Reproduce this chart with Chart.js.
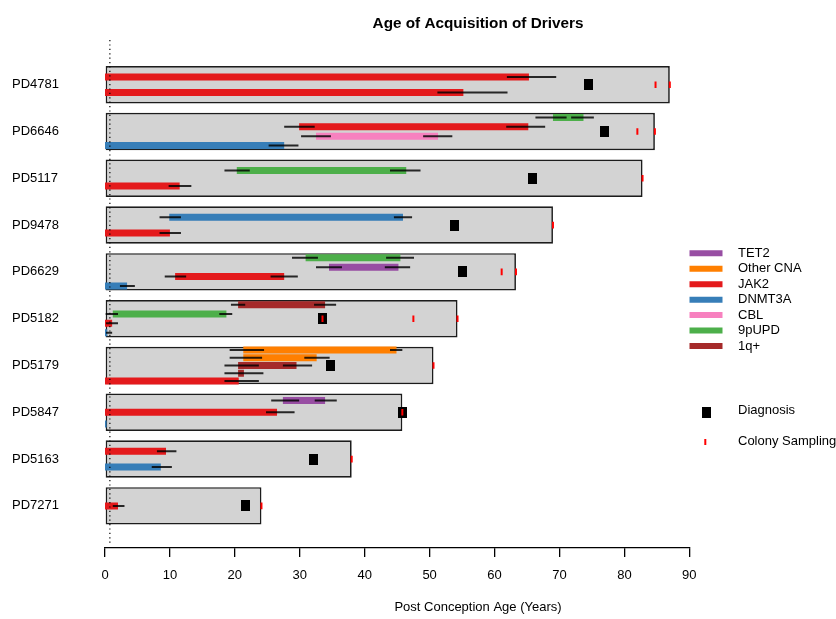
<!DOCTYPE html>
<html>
<head>
<meta charset="utf-8">
<script src="https://cdn.jsdelivr.net/npm/chart.js@4.4.1/dist/chart.umd.min.js"></script>
<style>
  html, body { margin: 0; padding: 0; background: #ffffff; }
  canvas { display: block; }
</style>
</head>
<body>
<canvas id="chart" width="836" height="619"></canvas>
<script>
// Patients, top to bottom
const patients = ['PD4781', 'PD6646', 'PD5117', 'PD9478', 'PD6629', 'PD5182', 'PD5179', 'PD5847', 'PD5163', 'PD7271'];
// Age (years post conception) at the last colony sampling: end of each grey box
const lastSampling = [87.0, 84.7, 82.8, 69.0, 63.3, 54.3, 50.6, 45.8, 38.0, 24.1];
// Age at diagnosis
const diagnosisAge = [74.4, 77.0, 65.8, 53.9, 55.0, 33.5, 34.8, 45.8, 32.1, 21.6];
// Ages at which colonies were sampled
const colonySampling = [[84.8, 87.0], [82.0, 84.7], [82.8], [69.0], [61.1, 63.3], [33.5, 47.5, 54.3], [50.6], [45.8], [38.0], [24.1]];
// Number of driver lanes inside each patient box
const laneCounts = [2, 4, 2, 2, 4, 4, 5, 3, 2, 1];

// Driver events: patient index, lane, driver, acquisition window and confidence limits
const drvPatient = [0, 0, 1, 1, 1, 1, 2, 2, 3, 3, 4, 4, 4, 4, 5, 5, 5, 5, 6, 6, 6, 6, 6, 7, 7, 7, 8, 8, 9];
const drvLane    = [1, 2, 1, 2, 3, 4, 1, 2, 1, 2, 1, 2, 3, 4, 1, 2, 3, 4, 1, 2, 3, 4, 5, 1, 2, 3, 1, 2, 1];
const drvGene    = ['JAK2', 'JAK2', '9pUPD', 'JAK2', 'CBL', 'DNMT3A', '9pUPD', 'JAK2', 'DNMT3A', 'JAK2',
                    '9pUPD', 'TET2', 'JAK2', 'DNMT3A', '1q+', '9pUPD', 'JAK2', 'DNMT3A',
                    'Other CNA', 'Other CNA', '1q+', '1q+', 'JAK2', 'TET2', 'JAK2', 'DNMT3A', 'JAK2', 'DNMT3A', 'JAK2'];
const drvStart   = [0, 0, 69.0, 29.9, 32.5, 0, 20.3, 0, 9.9, 0, 30.9, 34.5, 10.8, 0, 20.5, 1.2, 0, 0,
                    21.3, 21.3, 20.5, 20.5, 0, 27.4, 0, 0, 0, 0, 0];
const drvEnd     = [65.3, 55.2, 73.7, 65.2, 51.3, 27.6, 46.4, 11.5, 45.9, 10.0, 45.5, 45.2, 27.6, 3.4, 33.9, 18.7, 1.1, 0.35,
                    44.9, 32.6, 29.5, 21.4, 20.6, 33.9, 26.5, 0.25, 9.4, 8.6, 2.0];
const drvStartLo = [null, null, 66.3, 27.6, 30.2, null, 18.4, null, 8.4, null, 28.8, 32.5, 9.2, null, 19.4, 0.1, null, null,
                    19.2, 19.2, 18.4, 18.4, null, 25.6, null, null, null, null, null];
const drvStartHi = [null, null, 71.1, 32.3, 34.8, null, 22.3, null, 11.7, null, 32.8, 36.5, 12.5, null, 21.6, 2.0, null, null,
                    24.5, 24.2, 23.7, 23.4, null, 29.9, null, null, null, null, null];
const drvEndLo   = [61.9, 51.2, 71.8, 61.8, 49.0, 25.2, 43.9, 9.8, 44.5, 8.4, 43.3, 43.1, 25.5, 2.3, 32.2, 17.6, 0.15, 0.15,
                    43.9, 30.7, 27.4, 19.4, 18.4, 32.3, 24.8, null, 8.0, 7.2, 1.2];
const drvEndHi   = [69.5, 62.0, 75.3, 67.8, 53.5, 29.8, 48.6, 13.3, 47.3, 11.7, 47.6, 47.0, 29.7, 4.6, 35.6, 19.6, 2.0, 1.1,
                    45.8, 34.6, 31.9, 24.4, 23.7, 35.7, 29.2, null, 11.0, 10.3, 3.0];

// Legend order and colours
const legendGenes = ['TET2', 'Other CNA', 'JAK2', 'DNMT3A', 'CBL', '9pUPD', '1q+'];
const geneColors  = ['#984EA3', '#FF7F00', '#E41A1C', '#377EB8', '#F781BF', '#4DAF4A', '#A52A2A'];

// Age at birth (9 months post conception)
const birthAge = 0.75;
const xTicks = [0, 10, 20, 30, 40, 50, 60, 70, 80, 90];

const FONT = '"Liberation Sans", Arial, Helvetica, sans-serif';

function laneY(p, lane) {
  const n = laneCounts[p];
  return p + 1 - 0.5 + lane / (n + 1);
}

// Black diagnosis marker
const diagMarker = document.createElement('canvas');
diagMarker.width = 9; diagMarker.height = 11;
(function () {
  const g = diagMarker.getContext('2d');
  g.fillStyle = '#000000';
  g.fillRect(0, 0, 9, 11);
})();

const datasets = [];

// Grey box per patient, from conception to last sampling
datasets.push({
  type: 'bar', indexAxis: 'y',
  data: patients.map((_, i) => ({ x: [0, lastSampling[i]], y: i + 1 })),
  backgroundColor: '#d3d3d3', borderColor: '#1c1c1c', borderWidth: 1.7, borderSkipped: false,
  barPercentage: 0.8, categoryPercentage: 1, order: 10
});

// Driver bars, one dataset per driver type
legendGenes.forEach((g, gi) => {
  const pts = [];
  drvGene.forEach((gg, k) => {
    if (gg !== g) return;
    const y = laneY(drvPatient[k], drvLane[k]);
    pts.push({ x: drvStart[k], y: y }, { x: drvEnd[k], y: y }, { x: drvEnd[k], y: null });
  });
  datasets.push({
    type: 'line', data: pts, borderColor: geneColors[gi], borderWidth: 7, borderCapStyle: 'butt',
    pointRadius: 0, pointHitRadius: 0, spanGaps: false, fill: false, tension: 0, order: 5
  });
});

// Confidence intervals of the start and end of each bar
const ciPts = [];
drvGene.forEach((_, k) => {
  const y = laneY(drvPatient[k], drvLane[k]);
  if (drvStartLo[k] !== null) ciPts.push({ x: drvStartLo[k], y: y }, { x: drvStartHi[k], y: y }, { x: drvStartHi[k], y: null });
  if (drvEndLo[k] !== null) ciPts.push({ x: drvEndLo[k], y: y }, { x: drvEndHi[k], y: y }, { x: drvEndHi[k], y: null });
});
datasets.push({
  type: 'line', data: ciPts, borderColor: 'rgba(0,0,0,0.82)', borderWidth: 2, borderCapStyle: 'butt',
  pointRadius: 0, spanGaps: false, fill: false, tension: 0, order: 4
});

// Diagnosis
datasets.push({
  type: 'line', showLine: false,
  data: patients.map((_, i) => ({ x: diagnosisAge[i], y: i + 1 })),
  pointStyle: diagMarker, pointRadius: 5, order: 3
});

// Colony sampling
const sampPts = [];
colonySampling.forEach((ages, i) => ages.forEach(a => sampPts.push({ x: a, y: i + 1 })));
datasets.push({
  type: 'line', showLine: false, data: sampPts,
  pointStyle: 'line', rotation: 90, pointRadius: 3.3,
  pointBorderColor: '#ff0000', pointBorderWidth: 2, order: 2
});

// Birth
datasets.push({
  type: 'line', data: [{ x: birthAge, y: 0.045 }, { x: birthAge, y: 10.84 }],
  borderColor: '#000000', borderWidth: 1.2, borderDash: [1.2, 3.2], pointRadius: 0, fill: false, order: 1
});

// Title, axis title and legend
const decorations = {
  id: 'decorations',
  afterDraw(chart) {
    const ctx = chart.ctx;
    ctx.save();
    ctx.fillStyle = '#000000';
    ctx.textBaseline = 'middle';
    ctx.textAlign = 'center';
    ctx.font = 'bold 15.3px ' + FONT;
    ctx.fillText('Age of Acquisition of Drivers', 478, 24);
    ctx.font = '13px ' + FONT;
    ctx.fillText('Post Conception Age (Years)', 478, 607);

    ctx.textAlign = 'left';
    legendGenes.forEach((g, i) => {
      const y = 253.3 + i * 15.45;
      ctx.strokeStyle = geneColors[i];
      ctx.lineWidth = 6;
      ctx.beginPath();
      ctx.moveTo(689.5, y); ctx.lineTo(722.5, y);
      ctx.stroke();
      ctx.fillStyle = '#000000';
      ctx.fillText(g, 738, y);
    });
    ctx.drawImage(diagMarker, 701.5, 406.5);
    ctx.fillText('Diagnosis', 738, 410.7);
    ctx.fillStyle = '#ff0000';
    ctx.fillRect(704.3, 439, 2, 6);
    ctx.fillStyle = '#000000';
    ctx.fillText('Colony Sampling', 738, 441.7);
    ctx.restore();
  }
};

new Chart(document.getElementById('chart'), {
  type: 'line',
  data: { datasets: datasets },
  plugins: [decorations],
  options: {
    responsive: false,
    animation: false,
    devicePixelRatio: 1,
    layout: { padding: { top: 40, right: 146.7, bottom: 0, left: 12 } },
    plugins: { legend: { display: false }, tooltip: { enabled: false }, title: { display: false } },
    scales: {
      x: {
        type: 'linear', min: 0, max: 90,
        afterBuildTicks: s => { s.ticks = xTicks.map(v => ({ value: v })); },
        afterFit: s => { s.height = 71; },
        grid: { drawOnChartArea: false, drawTicks: true, tickLength: 9, color: '#000000', lineWidth: 1.3 },
        border: { display: true, color: '#000000', width: 1.3 },
        ticks: { color: '#000000', font: { family: FONT, size: 13 }, padding: 11, maxRotation: 0, autoSkip: false }
      },
      y: {
        type: 'linear', reverse: true, min: 0.045, max: 10.90, offset: false,
        afterBuildTicks: s => { s.ticks = patients.map((_, i) => ({ value: i + 1 })); },
        afterFit: s => { s.width = 93; },
        grid: { display: false, offset: false },
        border: { display: false },
        ticks: {
          color: '#000000', font: { family: FONT, size: 13 }, padding: 0, crossAlign: 'far', autoSkip: false,
          callback: v => patients[Math.round(v) - 1]
        }
      }
    }
  }
});
</script>
</body>
</html>
